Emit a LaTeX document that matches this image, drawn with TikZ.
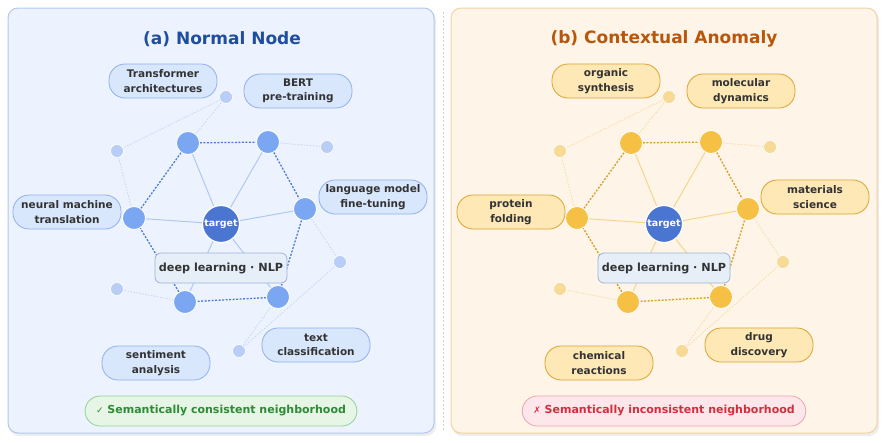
\documentclass[tikz,border=0pt]{standalone}
\usepackage{fontspec}
\setmainfont{DejaVu Sans}
\usetikzlibrary{positioning}

% colours
\definecolor{panelA}{HTML}{EDF3FE}
\definecolor{panelAline}{HTML}{B3C7EF}
\definecolor{panelB}{HTML}{FEF4E7}
\definecolor{panelBline}{HTML}{F2D3A2}
\definecolor{titleA}{HTML}{1F4E9F}
\definecolor{titleB}{HTML}{B8570C}
\definecolor{hubblue}{HTML}{4A76D2}
\definecolor{nbrA}{HTML}{7BA6F2}
\definecolor{farA}{HTML}{B9CEF6}
\definecolor{nbrB}{HTML}{F5C043}
\definecolor{farB}{HTML}{F8DA97}
\definecolor{spokeA}{HTML}{AFC8F2}
\definecolor{ringA}{HTML}{4C7BDA}
\definecolor{faintA}{HTML}{C4D5F4}
\definecolor{spokeB}{HTML}{F5D58F}
\definecolor{ringB}{HTML}{D69F24}
\definecolor{faintB}{HTML}{F6DBA3}
\definecolor{topicA}{HTML}{D9E7FD}
\definecolor{topicAline}{HTML}{8FB0EC}
\definecolor{topicB}{HTML}{FDE8B6}
\definecolor{topicBline}{HTML}{DBA431}
\definecolor{fieldfill}{HTML}{E6EEF8}
\definecolor{fieldline}{HTML}{9FB3D8}
\definecolor{textgray}{HTML}{333333}
\definecolor{okfill}{HTML}{E6F5E5}
\definecolor{okline}{HTML}{92D193}
\definecolor{oktext}{HTML}{2E8B35}
\definecolor{badfill}{HTML}{FDE7EA}
\definecolor{badline}{HTML}{F0A3AC}
\definecolor{badtext}{HTML}{D0303C}

\pgfdeclarelayer{panel}
\pgfdeclarelayer{edges}
\pgfsetlayers{panel,edges,main}

\tikzset{
  hub/.style={circle, fill=hubblue, draw=white, line width=1.2pt, minimum size=37pt, inner sep=0pt,
    text=white, font=\bfseries\fontsize{9.5}{11}\selectfont},
  nbr/.style={circle, draw=white, line width=0.8pt, minimum size=23pt, inner sep=0pt},
  far/.style={circle, draw=white, line width=0.6pt, minimum size=13pt, inner sep=0pt},
  topic/.style={rounded corners=16pt, draw, line width=0.8pt, minimum width=108pt, minimum height=34pt,
    align=center, text=textgray, inner sep=2pt, font=\bfseries\fontsize{10.5}{14.5}\selectfont},
  field/.style={rounded corners=6pt, draw=fieldline, fill=fieldfill, line width=0.8pt,
    minimum width=132pt, minimum height=30pt, text=textgray, font=\bfseries\fontsize{11.2}{13}\selectfont},
  badge/.style={rounded corners=15pt, draw, line width=0.8pt, minimum height=30pt, inner xsep=11pt,
    font=\bfseries\fontsize{11}{13}\selectfont},
  spoke/.style={line width=1pt},
  ring/.style={line width=1.3pt, dash pattern=on 2pt off 1.5pt},
  faint/.style={line width=0.8pt, dash pattern=on 1.5pt off 1.5pt},
}

\begin{document}
\begin{tikzpicture}[x=1pt,y=-1pt]
  \useasboundingbox (0,0) rectangle (885,442);

  % panels
  \begin{pgfonlayer}{panel}
    \fill[black!7, rounded corners=10pt] (9,10) rectangle (436,436);
    \fill[black!7, rounded corners=10pt] (452,10) rectangle (879,436);
    \draw[panelAline, fill=panelA, line width=1pt, rounded corners=10pt] (8,8) rectangle (434,433);
    \draw[panelBline, fill=panelB, line width=1pt, rounded corners=10pt] (451,8) rectangle (877,433);
    \draw[black!18, dash pattern=on 2pt off 2pt] (443,12) -- (443,430);
  \end{pgfonlayer}

  %% ---------- (a) normal node ----------
  \node[text=titleA, font=\bfseries\fontsize{17}{20}\selectfont] (atitle) at (222,39) {(a) Normal Node};

  \node[hub] (atarget) at (221,224) {target};
  \node[nbr, fill=nbrA] (an1) at (188,143) {};
  \node[nbr, fill=nbrA] (an2) at (268,142) {};
  \node[nbr, fill=nbrA] (an3) at (305,209) {};
  \node[nbr, fill=nbrA] (an4) at (278,297) {};
  \node[nbr, fill=nbrA] (an5) at (185,302) {};
  \node[nbr, fill=nbrA] (an6) at (134,218) {};
  \node[far, fill=farA] (ap1) at (226,97) {};
  \node[far, fill=farA] (ap2) at (117,151) {};
  \node[far, fill=farA] (ap3) at (327,147) {};
  \node[far, fill=farA] (ap4) at (340,262) {};
  \node[far, fill=farA] (ap5) at (117,289) {};
  \node[far, fill=farA] (ap6) at (239,351) {};

  \begin{pgfonlayer}{edges}
    \draw[spoke, spokeA] (atarget) -- (an1) (atarget) -- (an2) (atarget) -- (an3)
      (atarget) -- (an4) (atarget) -- (an5) (atarget) -- (an6);
    \draw[ring, ringA] (an1) -- (an2) -- (an3) -- (an4) -- (an5) -- (an6) -- (an1);
    \draw[faint, faintA] (an1) -- (ap1) -- (ap2) -- (an6) (an2) -- (ap3)
      (an3) -- (ap4) -- (ap6) -- (an4) (an5) -- (ap5);
  \end{pgfonlayer}

  \node[field] (afield) at (221,268) {deep learning · NLP};

  \node[topic, fill=topicA, draw=topicAline] (atransformer) at (163,81) {Transformer\\architectures};
  \node[topic, fill=topicA, draw=topicAline] (abert) at (298,91) {BERT\\pre-training};
  \node[topic, fill=topicA, draw=topicAline] (alm) at (373,197) {language model\\fine-tuning};
  \node[topic, fill=topicA, draw=topicAline] (anmt) at (67,212) {neural machine\\translation};
  \node[topic, fill=topicA, draw=topicAline] (asentiment) at (156,363) {sentiment\\analysis};
  \node[topic, fill=topicA, draw=topicAline] (atext) at (316,345) {text\\classification};

  \node[badge, fill=okfill, draw=okline, text=oktext] (aok) at (221,411)
    {{\fontsize{9}{11}\selectfont ✓} Semantically consistent neighborhood};

  %% ---------- (b) contextual anomaly ----------
  \node[text=titleB, font=\bfseries\fontsize{17}{20}\selectfont] (btitle) at (664,39) {(b) Contextual Anomaly};

  \node[hub] (btarget) at (664,224) {target};
  \node[nbr, fill=nbrB] (bn1) at (631,143) {};
  \node[nbr, fill=nbrB] (bn2) at (711,142) {};
  \node[nbr, fill=nbrB] (bn3) at (748,209) {};
  \node[nbr, fill=nbrB] (bn4) at (721,297) {};
  \node[nbr, fill=nbrB] (bn5) at (628,302) {};
  \node[nbr, fill=nbrB] (bn6) at (577,218) {};
  \node[far, fill=farB] (bp1) at (669,97) {};
  \node[far, fill=farB] (bp2) at (560,151) {};
  \node[far, fill=farB] (bp3) at (770,147) {};
  \node[far, fill=farB] (bp4) at (783,262) {};
  \node[far, fill=farB] (bp5) at (560,289) {};
  \node[far, fill=farB] (bp6) at (682,351) {};

  \begin{pgfonlayer}{edges}
    \draw[spoke, spokeB] (btarget) -- (bn1) (btarget) -- (bn2) (btarget) -- (bn3)
      (btarget) -- (bn4) (btarget) -- (bn5) (btarget) -- (bn6);
    \draw[ring, ringB] (bn1) -- (bn2) -- (bn3) -- (bn4) -- (bn5) -- (bn6) -- (bn1);
    \draw[faint, faintB] (bn1) -- (bp1) -- (bp2) -- (bn6) (bn2) -- (bp3)
      (bn3) -- (bp4) -- (bp6) -- (bn4) (bn5) -- (bp5);
  \end{pgfonlayer}

  \node[field] (bfield) at (664,268) {deep learning · NLP};

  \node[topic, fill=topicB, draw=topicBline] (borganic) at (606,81) {organic\\synthesis};
  \node[topic, fill=topicB, draw=topicBline] (bmolecular) at (741,91) {molecular\\dynamics};
  \node[topic, fill=topicB, draw=topicBline] (bmaterials) at (815,197) {materials\\science};
  \node[topic, fill=topicB, draw=topicBline] (bprotein) at (511,212) {protein\\folding};
  \node[topic, fill=topicB, draw=topicBline] (bchemical) at (599,363) {chemical\\reactions};
  \node[topic, fill=topicB, draw=topicBline] (bdrug) at (759,345) {drug\\discovery};

  \node[badge, fill=badfill, draw=badline, text=badtext] (bbad) at (664,411)
    {{\fontsize{9}{11}\selectfont ✗} Semantically inconsistent neighborhood};
\end{tikzpicture}
\end{document}
